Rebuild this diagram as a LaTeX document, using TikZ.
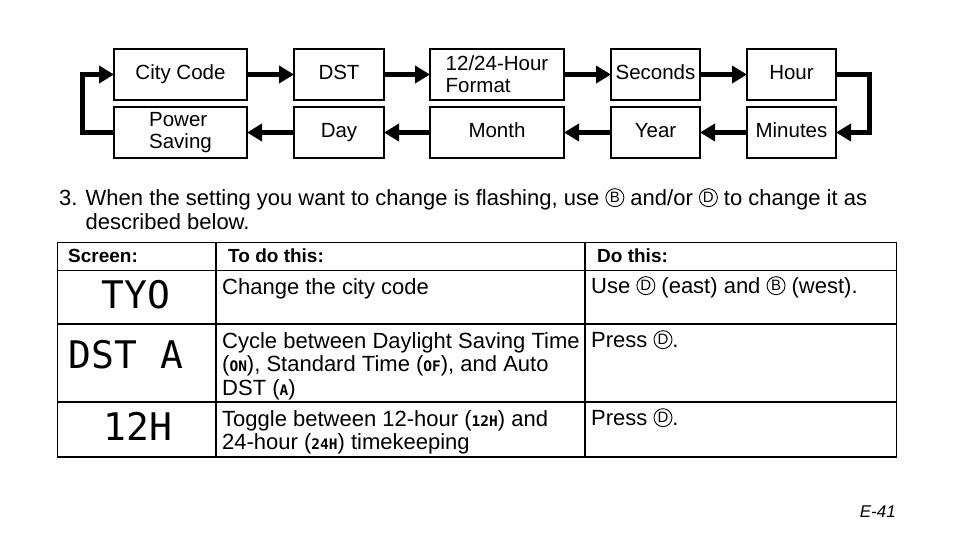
\documentclass[tikz,border=0pt]{standalone}
\usepackage{fontspec}
\setmainfont{Liberation Sans}
\newfontfamily\lcdfont{DejaVu Sans Mono}
\usepackage{tikz}
\usetikzlibrary{positioning, arrows.meta}

% 按钮符号与液晶字
\newcommand{\btn}[1]{\tikz[baseline={([yshift=-2.4pt]btnmark.base)}] \node (btnmark) [circle, draw, line width=0.9pt, inner sep=0pt, minimum width=18pt, minimum height=18pt, text height=10.5pt, text depth=0pt, font=\fontsize{15}{15}\selectfont] {#1};}
\newcommand{\lcd}[1]{{\lcdfont\bfseries\fontsize{14.5}{14.5}\selectfont #1}}

\begin{document}
\begin{tikzpicture}[
        x=1pt, y=-1pt,
        node distance=7pt and 47pt,
        setbox/.style={rectangle, draw=black, line width=1.6pt, minimum height=51pt, inner sep=0pt, outer sep=0pt, align=center, font=\fontsize{20.5}{22}\selectfont},
        oneline/.style={text height=14.5pt, text depth=4pt},
        flow/.style={line width=5pt, -{Triangle[length=15pt, width=17pt]}},
        cell/.style={inner sep=0pt, align=left, anchor=north west, font=\fontsize{22}{23.5}\selectfont},
        head/.style={inner sep=0pt, anchor=base west, font=\bfseries\fontsize{19}{20}\selectfont},
        lcdtext/.style={inner sep=0pt, font=\lcdfont\fontsize{38}{38}\selectfont},
        grid/.style={line width=1.3pt}
    ]
        \useasboundingbox (0,0) rectangle (954,558);

        % ===== 设置顺序 =====
        \node (city) [setbox, oneline, minimum width=133pt, anchor=north west] at (114,49) {City Code};
        \node (dst) [setbox, oneline, minimum width=90pt, right=of city] {DST};
        \node (fmt) [setbox, minimum width=134pt, right=46pt of dst, align=left] {12/24-Hour\\Format};
        \node (sec) [setbox, oneline, minimum width=89pt, right=of fmt] {Seconds};
        \node (hour) [setbox, oneline, minimum width=89pt, right=of sec] {Hour};
        \node (power) [setbox, minimum width=133pt, below=of city, align=left] {Power\\Saving};
        \node (day) [setbox, oneline, minimum width=90pt, below=of dst] {Day};
        \node (month) [setbox, oneline, minimum width=134pt, below=of fmt] {Month};
        \node (year) [setbox, oneline, minimum width=89pt, below=of sec] {Year};
        \node (minutes) [setbox, oneline, minimum width=89pt, below=of hour] {Minutes};

        % ===== 箭头 =====
        \draw [flow] (city) -- (dst);
        \draw [flow] (dst) -- (fmt);
        \draw [flow] (fmt) -- (sec);
        \draw [flow] (sec) -- (hour);
        \draw [flow] (hour.east) -- ++(33,0) |- (minutes.east);
        \draw [flow] (minutes) -- (year);
        \draw [flow] (year) -- (month);
        \draw [flow] (month) -- (day);
        \draw [flow] (day) -- (power);
        \draw [flow] (power.west) -- ++(-32,0) |- (city.west);

        % ===== 说明 =====
        \node (step) [inner sep=0pt, anchor=north west, align=left, font=\fontsize{22}{24}\selectfont] at (59,188)
            {3. When the setting you want to change is flashing, use \btn{B} and/or \btn{D} to change it as\\
             \hphantom{3. }described below.};

        % ===== 表格 =====
        \draw [grid] (57.5,242.5) rectangle (896.5,457);
        \draw [grid] (57.5,270.5) -- (896.5,270.5);
        \draw [grid] (57.5,324) -- (896.5,324);
        \draw [grid] (57.5,402) -- (896.5,402);
        \draw [grid] (216,242.5) -- (216,457);
        \draw [grid] (585,242.5) -- (585,457);

        \node (hscreen) [head] at (68,262) {Screen:};
        \node (hdo) [head] at (228,262) {To do this:};
        \node (hthis) [head] at (597,262) {Do this:};

        \node (tyo) [lcdtext] at (136,295) {TYO};
        \node (dsta) [lcdtext] at (126,355) {DST A};
        \node (twelve) [lcdtext] at (138,426) {12H};

        \node (citydo) [cell] at (222,278) {Change the city code};
        \node (cityuse) [cell] at (591,276) {Use \btn{D} (east) and \btn{B} (west).};
        \node (dstdo) [cell] at (222,332) {Cycle between Daylight Saving Time\\(\lcd{ON}), Standard Time (\lcd{OF}), and Auto\\DST (\lcd{A})};
        \node (dstuse) [cell] at (591,330) {Press \btn{D}.};
        \node (hrdo) [cell] at (222,410) {Toggle between 12-hour (\lcd{12H}) and\\24-hour (\lcd{24H}) timekeeping};
        \node (hruse) [cell] at (591,408) {Press \btn{D}.};

        \node (page) [inner sep=0pt, anchor=base east, font=\itshape\fontsize{17}{20}\selectfont] at (896,517) {E-41};

    \end{tikzpicture}
\end{document}
